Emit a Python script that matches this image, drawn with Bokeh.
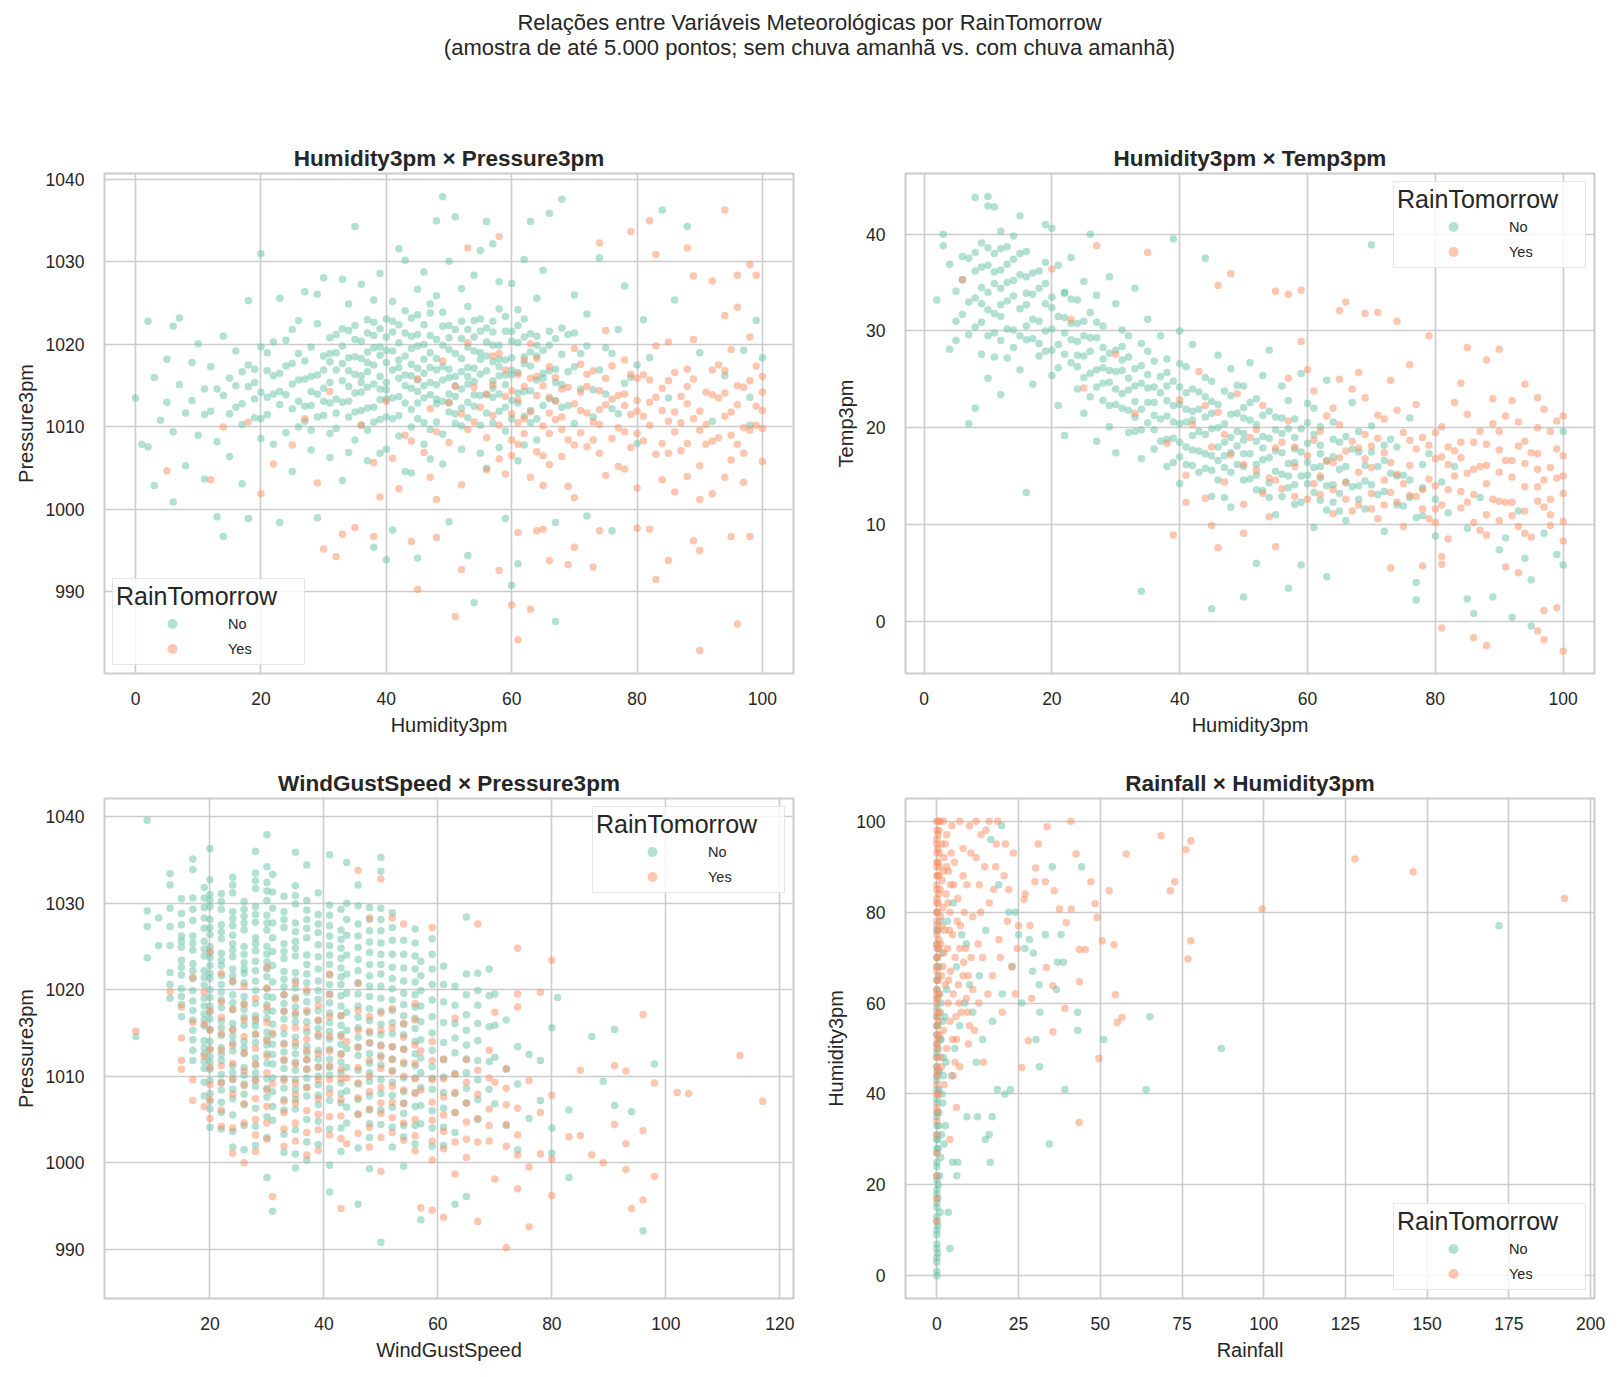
from bokeh.plotting import figure
from bokeh.models import Div, Legend, LegendItem, FixedTicker, Range1d
from bokeh.layouts import column, row
from bokeh.embed import file_html
from bokeh.resources import INLINE

# values (a sample of the plotted points)

# Humidity3pm x Pressure3pm
hum_pres_no = [
    (0, 1013.5), (1, 1007.9), (2, 1007.6), (2, 1022.8), (3, 1002.9), (3, 1016.0), (4, 1010.8), (5, 1018.2),
    (5, 1013.0), (6, 1022.2), (6, 1000.9), (6, 1009.4), (7, 1023.2), (7, 1015.1), (8, 1011.7), (8, 1005.3),
    (9, 1017.8), (9, 1013.2), (10, 1009.0), (10, 1020.1), (11, 1014.6), (11, 1003.7), (12, 1011.9), (12, 1017.3),
    (13, 999.1), (13, 1008.2), (14, 1013.8), (14, 996.7), (14, 1021.0), (15, 1015.9), (15, 1006.4), (16, 1012.4),
    (16, 1019.2), (17, 1010.3), (17, 1003.1), (18, 1014.9), (18, 998.9), (18, 1025.3), (19, 1011.1), (19, 1017.0),
    (20, 1031.0), (20, 1008.6), (20, 1014.2), (21, 1016.8), (21, 1011.5), (22, 1020.3), (22, 1007.9), (22, 1014.0),
    (23, 998.4), (23, 1012.7), (23, 1025.6), (24, 1017.4), (24, 1009.3), (25, 1015.2), (25, 1021.8), (25, 1004.6),
    (26, 1013.1), (26, 1018.9), (27, 1010.7), (27, 1026.4), (27, 1015.8), (28, 1007.2), (28, 1012.6), (28, 1019.7),
    (29, 999.0), (29, 1016.3), (29, 1022.5), (30, 1011.4), (30, 1014.7), (30, 1028.1), (31, 1006.3), (31, 1017.9),
    (32, 1013.4), (32, 1009.8), (32, 1021.2), (33, 1015.6), (33, 1003.5), (34, 1018.4), (34, 1011.2), (34, 1024.9),
    (35, 1034.3), (35, 1014.1), (35, 1008.4), (35, 1020.6), (36, 1016.2), (36, 1012.0), (36, 1027.3), (37, 1019.1),
    (37, 1009.6), (37, 1014.8), (38, 995.4), (38, 1017.5), (38, 1022.7), (39, 1013.3), (39, 1006.8), (39, 1018.7),
    (40, 993.9), (40, 1015.4), (40, 1020.9), (40, 1011.2), (41, 997.5), (41, 1016.9), (41, 1025.2), (42, 1013.7),
    (42, 1018.1), (42, 1008.9), (43, 1021.4), (43, 1015.0), (43, 1030.2), (44, 1012.1), (44, 1017.6), (44, 1004.4),
    (45, 994.1), (45, 1019.8), (45, 1014.3), (45, 1023.6), (46, 1016.5), (46, 1010.5), (46, 1028.8), (47, 1013.9),
    (47, 1021.1), (47, 1006.1), (48, 1035.0), (48, 1018.3), (48, 1012.8), (48, 1025.9), (49, 1037.9), (49, 1015.7),
    (49, 1009.1), (50, 998.5), (50, 1019.4), (50, 1014.0), (50, 1022.3), (51, 1035.5), (51, 1016.1), (51, 1011.6),
    (52, 1020.7), (52, 1026.8), (52, 1007.3), (53, 994.4), (53, 1017.2), (53, 1013.0), (54, 988.7), (54, 1022.9),
    (54, 1015.5), (55, 1019.0), (55, 1010.2), (55, 1031.4), (56, 1034.9), (56, 1016.8), (56, 1005.0), (57, 1021.5),
    (57, 1013.6), (58, 1018.2), (58, 1027.6), (59, 998.9), (59, 1015.1), (59, 1009.5), (60, 990.8), (60, 1020.4),
    (60, 1016.3), (61, 993.4), (61, 1012.9), (61, 1024.2), (62, 1017.7), (62, 1007.8), (63, 1034.9), (63, 1021.3),
    (63, 1014.4), (64, 1018.6), (64, 1011.0), (65, 1029.0), (65, 1015.9), (66, 1035.9), (66, 1019.9), (67, 986.4),
    (67, 998.4), (67, 1013.2), (68, 1037.6), (68, 1022.0), (69, 1016.7), (70, 1026.0), (70, 1010.4), (71, 1018.9),
    (72, 999.2), (72, 1023.7), (73, 1014.5), (74, 1030.5), (75, 1019.6), (76, 997.4), (76, 1012.2), (77, 1021.8),
    (78, 1027.1), (79, 1016.0), (80, 1008.0), (81, 1023.0), (82, 1018.4), (84, 1036.3), (85, 1013.5), (86, 1025.4),
    (88, 1034.3), (90, 1019.0), (92, 1010.7), (94, 1016.2), (97, 1019.3), (98, 1013.6), (99, 1022.9), (100, 1018.4),
    (98, 1010.2), (26, 1015.7), (28, 1016.1), (30, 1018.6), (31, 1012.9), (33, 1019.8), (34, 1014.9), (36, 1020.4),
    (37, 1016.7), (38, 1012.4), (39, 1021.9), (40, 1017.8), (41, 1013.5), (42, 1022.4), (43, 1018.6), (44, 1014.7),
    (45, 1011.0), (46, 1020.0), (47, 1017.2), (48, 1015.1), (49, 1019.9), (50, 1017.0), (51, 1021.8), (52, 1014.6),
    (53, 1019.7), (54, 1012.5), (55, 1016.4), (56, 1020.3), (57, 1017.9), (58, 1014.0), (59, 1021.6), (60, 1013.2),
    (62, 1020.9), (44, 1023.2), (38, 1025.4), (47, 1009.7), (53, 1024.6), (57, 1010.5), (32, 1016.9), (24, 1013.9),
    (20, 1019.7), (15, 1011.6), (16, 1015.0), (17, 1012.8), (18, 1017.5), (19, 1013.4), (20, 1011.0), (21, 1019.0),
    (22, 1016.2), (23, 1014.3), (24, 1020.5), (25, 1012.2), (26, 1010.0), (27, 1018.0), (28, 1014.3), (29, 1011.2),
    (30, 1016.9), (31, 1020.8), (32, 1011.7), (33, 1017.7), (34, 1021.7), (35, 1016.4), (35, 1011.8), (36, 1018.3),
    (36, 1014.2), (37, 1021.4), (37, 1012.3), (38, 1019.6), (38, 1015.2), (39, 1016.1), (39, 1010.9), (40, 1013.4),
    (40, 1023.1), (41, 1019.2), (41, 1011.0), (42, 1015.9), (42, 1020.2), (43, 1012.9), (43, 1024.1), (44, 1019.5),
    (44, 1010.0), (45, 1017.1), (45, 1021.2), (46, 1013.5), (46, 1018.2), (47, 1015.4), (47, 1023.8), (48, 1020.6),
    (48, 1010.6), (49, 1013.1), (49, 1022.2), (50, 1016.0), (50, 1011.8), (51, 1018.9), (51, 1013.7), (52, 1022.8),
    (52, 1016.7), (53, 1015.2), (53, 1011.1), (54, 1019.2), (54, 1017.1), (55, 1013.8), (55, 1021.6), (56, 1018.6),
    (56, 1013.9), (57, 1015.6), (57, 1019.9), (58, 1016.2), (58, 1011.9), (59, 1018.1), (59, 1023.4), (60, 1018.4),
    (60, 1011.0), (61, 1020.2), (61, 1016.6), (62, 1014.3), (62, 1023.1), (63, 1017.4), (63, 1010.5), (64, 1021.0),
    (64, 1015.7), (65, 1019.3), (65, 1012.6), (66, 1016.8), (66, 1013.4), (67, 1020.7), (67, 1017.0), (68, 1015.1),
    (68, 1018.8), (69, 1012.6), (69, 1021.2), (70, 1017.3), (71, 1014.6), (72, 1019.8), (73, 1011.2), (74, 1016.9),
    (75, 1014.0), (76, 1018.9), (77, 1011.6), (78, 1015.3), (80, 1017.5), (28, 1009.6), (31, 1009.2), (34, 1006.9),
    (37, 1005.9), (40, 1007.3), (43, 1004.6), (46, 1007.9), (49, 1005.5), (52, 1010.1), (55, 1006.8), (58, 1007.5),
    (61, 1005.9), (64, 1008.4), (26, 1022.9), (29, 1026.1), (33, 1027.9), (39, 1028.6), (42, 1031.6), (45, 1026.7),
    (50, 1030.1), (54, 1028.4), (57, 1032.2), (60, 1027.4), (62, 1030.3), (64, 1025.6), (58, 1024.3),
]
hum_pres_no_core = [
    (30, 1013.1), (31, 1015.4), (32, 1019.0), (33, 1013.0), (34, 1016.8), (35, 1022.3), (36, 1010.2), (37, 1017.8),
    (38, 1021.1), (39, 1014.6), (40, 1019.3), (41, 1021.5), (42, 1011.4), (43, 1016.3), (44, 1021.0), (45, 1015.7),
    (46, 1022.4), (47, 1019.0), (48, 1013.4), (49, 1017.3), (50, 1020.8), (51, 1015.0), (52, 1018.3), (53, 1021.8),
    (54, 1013.9), (55, 1018.2), (56, 1022.0), (57, 1014.7), (58, 1019.9), (59, 1012.4), (60, 1016.9), (61, 1022.3),
    (62, 1018.5), (63, 1012.0), (64, 1019.9), (65, 1016.5), (66, 1021.6), (67, 1015.4), (68, 1012.4), (70, 1021.4),
    (34, 1013.1), (36, 1015.4), (38, 1010.6), (40, 1014.5), (42, 1017.2), (44, 1016.2), (46, 1015.0), (48, 1016.9),
    (50, 1013.0), (52, 1012.3), (54, 1020.9), (56, 1011.7), (58, 1017.3), (60, 1021.6), (62, 1011.3), (45, 1012.9),
    (47, 1024.9), (49, 1023.9), (51, 1010.4), (53, 1016.1), (55, 1023.1), (57, 1022.8), (59, 1016.3), (61, 1014.1),
    (63, 1019.1), (41, 1022.8), (39, 1019.7), (37, 1023.0), (35, 1018.5), (33, 1021.9), (31, 1018.9), (29, 1014.0),
    (27, 1012.5), (25, 1017.7), (23, 1016.5), (21, 1013.6), (19, 1015.4), (17, 1016.7), (13, 1014.6), (11, 1011.5),
]
hum_pres_yes = [
    (94, 1036.3), (82, 1035.0), (79, 1033.7), (74, 1032.3), (88, 1031.7), (83, 1030.9), (98, 1029.7), (96, 1028.4),
    (99, 1028.4), (58, 1033.1), (53, 1031.7), (92, 1027.7), (89, 1028.3), (96, 1024.5), (94, 1023.5),
    (96, 986.1), (90, 982.9), (61, 984.2), (63, 987.9), (60, 988.4), (51, 987.0), (45, 990.3), (52, 992.7),
    (58, 992.6), (83, 991.5), (85, 993.8), (66, 993.8), (69, 993.3), (73, 993.0), (70, 995.4), (61, 997.2),
    (64, 997.4), (65, 997.6), (74, 997.4), (80, 997.7), (82, 997.6), (89, 996.2), (90, 995.0), (95, 996.7),
    (98, 996.7), (30, 995.2), (32, 994.3), (33, 997.0), (35, 997.8), (38, 996.7), (44, 996.1), (48, 996.6),
    (55, 1012.4), (56, 1008.7), (57, 1015.1), (58, 1018.9), (59, 1004.3), (60, 1011.6), (61, 1016.4), (62, 1009.2),
    (63, 1020.1), (64, 1013.8), (65, 1006.5), (66, 1017.3), (67, 1010.9), (68, 1014.6), (69, 1002.8), (70, 1019.5),
    (71, 1012.0), (72, 1007.6), (73, 1016.8), (74, 1010.3), (75, 1021.7), (76, 1013.4), (77, 1005.2), (78, 1018.1),
    (79, 1011.5), (80, 1015.9), (81, 1008.3), (82, 1013.0), (83, 1019.8), (84, 1003.6), (85, 1010.7), (86, 1016.6),
    (87, 1007.1), (88, 1012.8), (89, 1020.6), (90, 1009.6), (91, 1014.2), (92, 1001.9), (93, 1017.5), (94, 1011.3),
    (95, 1006.0), (96, 1015.0), (97, 1009.9), (98, 1020.9), (99, 1012.5), (100, 1005.8), (100, 1016.1), (97, 1003.3),
    (92, 1013.9), (88, 1008.0), (86, 1002.1), (80, 1011.9), (78, 1009.4), (74, 1014.4), (71, 1017.6), (68, 1006.4),
    (66, 1011.7), (63, 1003.9), (61, 1010.5), (59, 1013.7), (36, 1010.2), (38, 1005.7), (40, 1013.1), (42, 1002.5),
    (43, 1009.0), (45, 1015.8), (46, 1006.9), (47, 1012.2), (48, 1001.2), (49, 1018.0), (50, 1008.1), (51, 1014.9),
    (52, 1003.0), (53, 1020.2), (54, 1010.6), (27, 1011.0), (22, 1005.5), (25, 1007.8), (18, 1010.6), (20, 1001.9),
    (12, 1003.6), (5, 1004.7), (14, 1010.0), (31, 1014.3), (29, 1003.2), (56, 1014.0), (57, 1011.4), (58, 1006.1),
    (59, 1016.9), (60, 1008.4), (61, 1013.3), (62, 1018.1), (63, 1011.8), (64, 1007.0), (65, 1015.0), (66, 1009.2),
    (67, 1016.0), (68, 1011.2), (69, 1014.8), (70, 1007.8), (71, 1009.3), (72, 1014.9), (73, 1010.6), (74, 1006.8),
    (75, 1012.7), (76, 1017.4), (77, 1009.9), (78, 1014.0), (79, 1007.5), (80, 1013.2), (81, 1016.3), (82, 1010.2),
    (83, 1006.7), (84, 1012.0), (85, 1015.6), (86, 1009.4), (87, 1013.7), (88, 1017.0), (89, 1011.0), (90, 1005.3),
    (91, 1010.3), (92, 1016.9), (93, 1008.7), (94, 1014.1), (95, 1011.8), (96, 1007.9), (97, 1014.8), (98, 1009.6),
    (99, 1017.4), (100, 1012.0), (85, 1020.3), (90, 1001.2), (95, 1019.4), (80, 1002.6), (75, 1004.1), (70, 1001.4),
    (65, 1002.9), (62, 1014.9), (66, 1005.4), (72, 1011.7), (78, 1004.9), (84, 1008.0), (88, 1004.0), (94, 1003.9),
    (100, 1009.8), (60, 1006.5), (56, 1004.8), (53, 1009.7), (50, 1012.9), (47, 1003.9), (44, 1008.3), (41, 1006.2),
    (39, 1001.5), (57, 1018.6), (64, 1018.3),
]
hum_pres_yes_core = [
    (60, 1014.4), (62, 1011.0), (64, 1016.1), (66, 1013.6), (68, 1009.7), (70, 1012.8), (72, 1016.4), (74, 1012.1),
    (76, 1008.6), (78, 1012.6), (80, 1009.2), (82, 1015.7), (84, 1014.7), (86, 1011.8), (88, 1014.9), (90, 1011.9),
    (92, 1008.3), (94, 1016.8), (96, 1012.7), (98, 1015.6), (100, 1014.2), (61, 1007.9), (63, 1015.9), (65, 1010.1),
    (67, 1013.1), (69, 1008.4), (71, 1014.2), (73, 1008.4), (75, 1015.9), (77, 1013.8), (79, 1016.4), (81, 1011.3),
    (83, 1013.6), (85, 1006.8), (87, 1010.5), (89, 1015.8), (91, 1007.9), (93, 1013.5), (95, 1009.0), (97, 1006.8),
    (99, 1010.2), (58, 1010.2), (54, 1014.8), (52, 1011.6), (48, 1009.4),
]

# Humidity3pm x Temp3pm
hum_temp_no = [
    (2, 33.2), (3, 40.0), (3, 38.8), (4, 36.9), (4, 28.1), (5, 29.0), (5, 34.1), (6, 35.3), (6, 31.7), (7, 20.4),
    (7, 37.5), (7, 33.0), (8, 43.8), (8, 22.0), (8, 36.2), (8, 30.4), (9, 39.1), (9, 34.5), (9, 27.6), (10, 43.9),
    (10, 42.9), (10, 36.8), (10, 32.2), (10, 25.1), (11, 42.8), (11, 38.0), (11, 34.9), (11, 29.8), (12, 40.3),
    (12, 36.3), (12, 31.5), (12, 23.4), (13, 38.7), (13, 35.0), (13, 27.2), (14, 37.4), (14, 33.6), (14, 30.1),
    (15, 41.9), (15, 35.8), (15, 26.0), (16, 13.3), (16, 38.2), (16, 32.7), (16, 29.1), (17, 36.0), (17, 24.5),
    (18, 34.4), (18, 31.0), (19, 41.0), (19, 37.1), (19, 27.9), (20, 40.6), (20, 33.5), (20, 25.4), (20, 30.2),
    (21, 36.8), (21, 28.6), (21, 22.3), (22, 34.0), (22, 31.4), (22, 19.2), (23, 37.6), (23, 26.7), (23, 30.8),
    (24, 33.2), (24, 24.0), (24, 28.9), (25, 35.1), (25, 21.5), (25, 27.4), (26, 40.0), (26, 31.9), (26, 25.6),
    (27, 29.3), (27, 18.6), (27, 33.7), (28, 26.2), (28, 22.8), (28, 30.5), (29, 35.6), (29, 24.7), (29, 20.1),
    (30, 28.0), (30, 32.8), (30, 17.4), (31, 25.9), (31, 22.0), (31, 30.1), (32, 27.3), (32, 19.5), (33, 34.4),
    (33, 24.3), (33, 21.1), (34, 3.1), (34, 28.7), (34, 16.8), (35, 25.5), (35, 22.6), (35, 31.2), (36, 26.9),
    (36, 19.8), (37, 23.6), (37, 29.5), (38, 21.2), (38, 16.0), (38, 27.1), (39, 39.5), (39, 24.8), (39, 18.9),
    (40, 22.4), (40, 30.0), (40, 14.2), (41, 26.3), (41, 20.6), (42, 17.7), (42, 24.0), (42, 28.6), (43, 21.9),
    (43, 15.4), (44, 37.5), (44, 25.2), (44, 19.3), (45, 1.3), (45, 22.7), (45, 17.1), (45, 12.9), (46, 27.5),
    (46, 20.0), (47, 23.8), (47, 15.9), (47, 18.5), (48, 26.1), (48, 21.4), (48, 11.8), (49, 19.6), (49, 24.4),
    (50, 2.5), (50, 17.3), (50, 22.1), (50, 14.6), (51, 20.8), (51, 26.7), (52, 6.0), (52, 16.2), (52, 23.0),
    (53, 19.1), (53, 13.5), (54, 21.7), (54, 28.0), (55, 17.6), (55, 11.0), (56, 24.3), (56, 15.2), (57, 3.4),
    (57, 19.9), (57, 22.8), (58, 14.1), (58, 17.8), (59, 5.8), (59, 25.6), (59, 12.3), (60, 20.5), (60, 16.4),
    (61, 9.7), (61, 22.0), (62, 18.2), (62, 14.8), (63, 4.6), (63, 24.9), (63, 11.5), (64, 17.0), (64, 20.6),
    (65, 13.2), (65, 15.7), (66, 19.1), (66, 10.4), (67, 22.6), (68, 14.0), (68, 17.5), (69, 11.6), (70, 38.9),
    (70, 20.2), (71, 13.1), (72, 16.6), (72, 9.3), (73, 18.8), (74, 12.0), (75, 15.1), (76, 21.0), (77, 4.0),
    (77, 2.2), (77, 10.7), (78, 13.8), (79, 17.3), (80, 8.8), (81, 14.4), (82, 11.2), (83, 16.0), (85, 2.3),
    (85, 9.6), (86, 0.8), (87, 12.8), (89, 2.5), (90, 7.4), (91, 8.6), (92, 0.4), (93, 11.4), (94, 6.5), (95, 4.3),
    (95, -0.5), (97, 9.1), (99, 6.9), (100, 5.8), (100, 19.6), (30, 24.0), (34, 21.9), (38, 22.8), (42, 20.8),
    (46, 18.0), (50, 19.4), (54, 16.9), (58, 20.9), (62, 16.0), (40, 26.6), (44, 23.2), (48, 19.0), (52, 18.6),
    (56, 21.0), (36, 24.2), (32, 25.1), (28, 28.3), (24, 30.8), (20, 32.4), (16, 35.6), (12, 34.4), (60, 18.4),
    (64, 14.1), (53, 25.4), (41, 18.0), (5, 31.0), (6, 37.7), (7, 29.6), (8, 33.4), (9, 36.6), (9, 30.9),
    (10, 34.0), (10, 38.6), (11, 31.8), (11, 27.3), (12, 38.5), (12, 29.0), (13, 33.1), (13, 36.9), (14, 28.3),
    (14, 35.2), (15, 32.3), (15, 38.0), (16, 30.5), (17, 33.8), (17, 29.2), (18, 36.2), (18, 27.4), (19, 32.8),
    (19, 30.0), (21, 31.5), (22, 27.6), (22, 33.9), (23, 29.1), (24, 26.3), (25, 31.0), (25, 29.5), (26, 27.9),
    (26, 23.2), (27, 26.0), (27, 30.9), (28, 24.6), (29, 27.7), (29, 22.3), (30, 25.8), (31, 28.4), (31, 23.5),
    (32, 21.8), (32, 29.5), (33, 26.1), (33, 19.6), (34, 24.6), (34, 26.4), (35, 20.5), (35, 27.9), (36, 22.6),
    (36, 17.8), (37, 25.3), (37, 20.9), (38, 18.8), (38, 24.3), (39, 22.3), (39, 16.4), (40, 20.4), (40, 18.5),
    (41, 23.6), (41, 16.2), (42, 21.7), (42, 19.2), (43, 23.7), (43, 17.6), (44, 21.1), (44, 15.8), (45, 19.9),
    (45, 24.8), (46, 22.4), (46, 16.6), (47, 20.4), (47, 12.8), (48, 17.4), (48, 23.3), (49, 21.5), (49, 16.2),
    (50, 18.7), (50, 24.3), (51, 17.3), (51, 14.7), (52, 20.3), (52, 13.6), (53, 16.7), (53, 21.3), (54, 18.9),
    (54, 14.3), (55, 19.8), (55, 15.5), (56, 17.4), (56, 12.9), (57, 16.3), (57, 13.8), (58, 19.0), (58, 12.1),
    (59, 17.5), (59, 15.0), (60, 14.2), (60, 22.5), (61, 15.9), (61, 19.3), (62, 12.5), (62, 20.1), (63, 16.6),
    (64, 12.3), (65, 18.5), (66, 16.0), (67, 13.9), (68, 19.6), (69, 14.5), (70, 17.5), (71, 16.0), (72, 13.4),
    (73, 15.3), (74, 18.0), (75, 11.9), (76, 14.6), (78, 16.2), (80, 12.6),
]
hum_temp_no_core = [
    (8, 38.1), (9, 32.8), (10, 29.5), (11, 36.1), (12, 32.7), (13, 30.2), (14, 39.8), (15, 29.5), (16, 33.9),
    (17, 31.2), (18, 28.7), (19, 34.9), (20, 28.0), (21, 26.2), (22, 29.8), (23, 33.3), (24, 27.5), (25, 25.2),
    (26, 29.3), (27, 24.2), (28, 27.1), (29, 25.9), (30, 22.4), (31, 27.0), (32, 23.9), (33, 22.7), (34, 19.8),
    (35, 24.1), (36, 21.3), (37, 18.6), (38, 25.7), (39, 20.6), (40, 17.0), (41, 21.9), (42, 16.1), (43, 19.6),
    (44, 17.3), (45, 21.5), (46, 14.6), (47, 17.1), (48, 15.4), (49, 18.1), (50, 16.0), (51, 22.6), (52, 15.1),
    (53, 17.9), (54, 12.8), (55, 21.1), (56, 19.4), (57, 15.0), (58, 16.4), (59, 19.9), (60, 15.1), (61, 13.3),
    (62, 17.3), (63, 14.0), (64, 18.8), (65, 11.4), (66, 14.4), (67, 17.8), (68, 12.6), (69, 16.1), (70, 14.1),
    (72, 18.2), (74, 15.0), (76, 12.8), (78, 10.9), (40, 24.2), (45, 15.6), (50, 21.0),
]
hum_temp_yes = [
    (27, 38.8), (35, 38.1), (6, 35.3), (48, 35.9), (46, 34.7), (57, 33.8), (55, 34.1), (59, 34.2), (66, 33.0),
    (65, 32.1), (69, 31.8), (71, 31.9), (74, 31.0), (79, 29.5), (85, 28.3), (88, 27.0), (90, 28.1), (94, 24.5),
    (96, 23.1), (20, 36.4), (23, 31.2), (30, 27.6), (33, 21.5), (25, 24.1), (81, -0.7), (86, -1.7), (88, -2.5),
    (96, -1.0), (97, -1.9), (97, 1.1), (100, -3.1), (91, 5.6), (81, 5.9), (81, 6.7), (78, 5.7), (73, 5.5),
    (50, 9.1), (55, 7.7), (46, 7.6), (39, 8.9), (45, 9.9), (99, 1.4), (93, 5.0), (38, 18.4), (40, 22.9),
    (41, 15.1), (42, 20.3), (43, 25.8), (44, 12.7), (45, 18.0), (46, 21.6), (47, 14.4), (48, 17.2), (49, 23.5),
    (50, 12.1), (51, 19.0), (52, 15.6), (53, 22.3), (54, 10.8), (55, 17.9), (56, 13.7), (57, 20.7), (58, 16.0),
    (59, 28.9), (60, 12.6), (61, 18.7), (62, 15.0), (63, 21.2), (64, 11.1), (65, 16.9), (66, 14.3), (67, 24.0),
    (68, 12.0), (69, 19.3), (70, 15.9), (71, 10.6), (72, 17.4), (73, 13.3), (74, 21.8), (75, 9.8), (76, 16.1),
    (77, 12.9), (78, 19.0), (79, 14.7), (80, 10.2), (81, 17.0), (82, 13.6), (83, 22.6), (84, 11.7), (85, 15.3),
    (86, 18.5), (87, 9.4), (88, 14.2), (89, 20.4), (90, 12.4), (91, 16.6), (92, 10.9), (93, 18.1), (94, 13.9),
    (95, 8.7), (96, 15.7), (97, 11.8), (98, 19.6), (99, 14.8), (100, 10.3), (100, 17.1), (98, 12.6), (96, 20.0),
    (94, 16.3), (92, 22.8), (90, 15.4), (88, 11.0), (86, 13.1), (84, 24.6), (82, 8.5), (80, 16.8), (76, 26.5),
    (72, 20.9), (68, 25.7), (64, 22.0), (60, 26.0), (50, 16.2), (52, 19.8), (54, 14.8), (56, 18.5), (58, 12.9),
    (60, 17.1), (61, 14.2), (62, 19.6), (63, 16.5), (64, 13.6), (65, 20.3), (66, 17.6), (67, 11.4), (68, 15.4),
    (69, 16.8), (70, 13.2), (71, 18.9), (72, 14.6), (73, 16.4), (74, 12.3), (75, 19.5), (76, 13.0), (77, 17.8),
    (78, 11.6), (79, 18.2), (80, 14.0), (81, 12.0), (82, 18.0), (83, 15.0), (84, 16.9), (85, 12.3), (86, 10.2),
    (87, 16.0), (88, 18.3), (89, 12.6), (90, 17.7), (91, 12.3), (92, 14.9), (93, 9.8), (94, 11.4), (95, 17.4),
    (96, 12.4), (97, 14.6), (98, 9.9), (99, 17.8), (100, 13.2), (100, 21.2), (97, 21.9), (93, 20.6), (89, 23.0),
    (85, 21.4), (81, 20.1), (77, 22.4), (73, 24.9), (69, 23.1), (65, 25.0), (61, 23.8), (57, 25.1), (53, 13.2),
    (47, 19.3), (44, 22.3), (41, 12.3),
]
hum_temp_yes_core = [
    (55, 14.6), (58, 18.0), (62, 13.1), (64, 16.4), (66, 12.6), (68, 17.9), (70, 11.6), (70, 18.1), (72, 12.0),
    (74, 15.2), (76, 18.7), (78, 13.6), (80, 19.5), (80, 11.6), (82, 16.2), (84, 13.4), (84, 18.5), (86, 15.7),
    (88, 16.1), (88, 8.9), (90, 10.4), (90, 19.6), (92, 16.6), (92, 12.3), (94, 18.6), (94, 9.1), (96, 13.9),
    (96, 17.3), (98, 15.9), (98, 11.0), (100, 15.0), (100, 8.3), (99, 20.7), (91, 21.2), (87, 19.6), (83, 17.6),
    (79, 10.6), (75, 14.2), (71, 21.3), (67, 18.6),
]

# WindGustSpeed x Pressure3pm: pressures seen at each gust value
gust_pres_no = {
    7: [1014.6], 9: [1039.6, 1029.1, 1027.3, 1023.7], 11: [1028.3, 1025.1],
    13: [1033.4, 1032.1, 1029.4, 1025.1, 1022.0, 1019.0, 1027.3, 1020.6],
    15: [1030.5, 1028.8, 1026.2, 1024.9, 1023.4, 1021.7, 1020.1, 1018.3, 1016.9],
    17: [1035.1, 1033.9, 1030.6, 1028.0, 1026.2, 1024.6, 1023.0, 1021.3, 1019.9, 1018.7, 1016.5, 1014.2, 1011.8],
    19: [1031.8, 1029.5, 1027.1, 1025.6, 1023.9, 1022.2, 1020.5, 1019.0, 1017.2, 1015.8, 1014.1, 1012.6, 1010.9,
         1009.3, 1007.7],
    20: [1036.3, 1032.7, 1031.0, 1029.6, 1028.1, 1026.4, 1025.0, 1023.7, 1022.8, 1021.3, 1020.0, 1019.1, 1018.1,
         1016.6, 1015.4, 1014.0, 1012.3, 1010.8, 1009.5, 1008.0, 1006.2, 1004.1],
    22: [1031.1, 1029.3, 1027.5, 1025.9, 1024.2, 1022.8, 1021.6, 1019.7, 1017.9, 1016.4, 1014.7, 1013.3, 1011.8,
         1010.2, 1008.4, 1005.8, 1003.9],
    24: [1033.0, 1031.2, 1029.0, 1027.4, 1025.3, 1023.8, 1022.4, 1020.9, 1019.4, 1017.7, 1016.1, 1014.6, 1012.9,
         1011.2, 1009.6, 1007.4, 1005.5, 1003.6, 1001.8],
    26: [1030.2, 1028.5, 1026.9, 1025.0, 1023.1, 1021.9, 1020.8, 1019.2, 1017.7, 1015.9, 1014.0, 1012.6, 1011.0,
         1009.1, 1006.7, 1004.3, 1001.5],
    28: [1036.0, 1033.5, 1031.7, 1029.6, 1027.8, 1026.0, 1024.5, 1022.2, 1019.9, 1018.4, 1017.0, 1015.8, 1013.9,
         1012.1, 1010.4, 1008.8, 1006.3, 1004.2, 1002.0],
    30: [1037.9, 1034.2, 1032.4, 1030.3, 1028.6, 1026.9, 1025.0, 1023.2, 1021.5, 1020.1, 1018.3, 1016.7, 1015.1,
         1013.6, 1011.5, 1009.7, 1007.6, 1005.3, 1002.9, 998.3],
    31: [1033.3, 1029.4, 1026.0, 1022.8, 1019.1, 1016.0, 1013.7, 1011.4, 1008.2, 1004.9, 994.4],
    33: [1030.8, 1029.0, 1027.2, 1025.3, 1023.6, 1022.1, 1020.3, 1018.4, 1016.6, 1014.9, 1012.8, 1010.9, 1008.6,
         1006.1, 1003.3, 1001.2],
    35: [1035.9, 1032.0, 1029.9, 1027.7, 1025.6, 1023.9, 1022.0, 1020.2, 1018.0, 1016.3, 1014.5, 1012.6, 1010.7,
         1008.5, 1006.2, 1003.8, 1001.0, 999.4],
    37: [1034.4, 1030.3, 1028.1, 1026.0, 1024.0, 1021.8, 1019.7, 1017.4, 1015.1, 1013.5, 1011.9, 1009.8, 1007.7,
         1005.0, 1002.4, 1000.3],
    39: [1031.2, 1028.7, 1026.6, 1023.8, 1021.0, 1018.9, 1016.4, 1014.6, 1013.0, 1011.1, 1009.0, 1006.7, 1004.8,
         1002.1],
    41: [1035.6, 1029.8, 1027.4, 1025.1, 1022.9, 1020.6, 1018.5, 1016.2, 1014.3, 1012.0, 1010.1, 1007.2, 1003.9,
         999.7, 996.6],
    43: [1029.3, 1026.9, 1024.8, 1022.5, 1020.6, 1018.1, 1015.9, 1013.7, 1011.6, 1009.2, 1006.9, 1004.0, 1001.3],
    44: [1034.7, 1030.0, 1026.3, 1021.8, 1017.4, 1013.2, 1008.3, 1004.6],
    46: [1032.1, 1029.7, 1027.6, 1024.9, 1022.2, 1019.5, 1016.8, 1014.5, 1012.4, 1009.1, 1005.6, 1001.7, 995.2],
    48: [1029.5, 1026.8, 1024.3, 1021.6, 1019.2, 1016.4, 1013.8, 1011.5, 1009.4, 1006.1, 1002.9, 999.3],
    50: [1035.3, 1033.7, 1029.4, 1026.8, 1024.1, 1021.8, 1019.0, 1016.0, 1013.6, 1011.3, 1008.0, 1004.4, 990.8],
    52: [1028.9, 1025.7, 1022.6, 1020.1, 1017.6, 1014.9, 1012.0, 1009.3, 1006.4, 1001.8],
    54: [1025.7, 1022.5, 1019.6, 1017.0, 1014.8, 1011.4, 1008.2, 1005.7, 1003.0, 999.6],
    56: [1027.0, 1023.9, 1020.9, 1018.0, 1015.5, 1012.6, 1009.8, 1006.5, 1002.2],
    57: [1023.3, 1019.9, 1016.3, 1012.1, 1008.7, 1004.5, 993.4],
    59: [1025.9, 1022.4, 1018.8, 1015.0, 1011.1, 1008.5, 1006.0, 1001.9],
    61: [1022.7, 1018.6, 1013.9, 1009.9, 1006.3, 1002.0],
    63: [1020.4, 1016.1, 1012.7, 1008.0, 1003.5, 995.2],
    65: [1028.4, 1021.8, 1017.1, 1013.6, 1010.4, 1006.9, 996.1],
    67: [1021.9, 1018.2, 1014.1, 1009.6, 1005.0],
    69: [1022.4, 1019.3, 1015.7, 1011.7, 1008.5],
    70: [1019.5, 1015.9, 1012.2, 1006.8], 72: [1016.5, 1010.8, 1004.3], 74: [1013.4, 1009.1, 1001.5],
    76: [1012.5, 1005.1], 78: [1011.8, 1007.2], 80: [1015.6, 1004.0, 1001.1], 81: [1019.1],
    83: [1006.1, 998.3], 87: [1014.6], 89: [1009.4], 91: [1015.4, 1006.6], 94: [1005.9], 96: [992.1],
    98: [1011.4],
}
gust_pres_no_more = {
    15: [1027.5, 1025.6, 1022.6, 1019.2], 17: [1029.3, 1025.4, 1022.2, 1017.6, 1015.3, 1013.0],
    19: [1030.6, 1028.3, 1024.7, 1021.4, 1018.1, 1016.5, 1013.3, 1011.7],
    20: [1030.3, 1027.2, 1024.3, 1021.9, 1017.4, 1013.1, 1011.6, 1007.1],
    22: [1030.2, 1026.7, 1023.4, 1020.6, 1018.8, 1015.6, 1012.5, 1009.3, 1007.0],
    24: [1032.1, 1028.2, 1026.3, 1024.6, 1021.6, 1018.5, 1015.4, 1013.8, 1010.4, 1008.5],
    26: [1029.3, 1027.7, 1024.1, 1022.4, 1018.4, 1016.8, 1013.3, 1010.1, 1007.9],
    28: [1032.6, 1028.7, 1025.3, 1023.3, 1021.0, 1016.4, 1014.8, 1011.3, 1009.6],
    30: [1031.4, 1027.7, 1024.1, 1022.4, 1019.2, 1017.5, 1014.3, 1012.6, 1008.6],
    31: [1031.3, 1027.7, 1024.4, 1020.9, 1017.5, 1014.8, 1012.5, 1009.8, 1006.5],
    33: [1028.1, 1024.4, 1021.2, 1019.4, 1017.5, 1013.8, 1011.8, 1009.7, 1007.3],
    35: [1030.9, 1026.7, 1024.8, 1021.1, 1019.1, 1017.1, 1013.5, 1011.6, 1009.6, 1007.3],
    37: [1029.2, 1027.1, 1022.9, 1020.8, 1018.6, 1016.3, 1012.7, 1010.8, 1008.7],
    39: [1027.6, 1025.2, 1022.4, 1019.9, 1017.6, 1015.5, 1012.0, 1010.0, 1007.8],
    41: [1028.6, 1026.2, 1024.0, 1021.7, 1019.5, 1017.3, 1015.2, 1013.1, 1011.0, 1008.6],
    43: [1025.8, 1023.6, 1021.5, 1019.3, 1017.0, 1014.8, 1012.6, 1010.4, 1008.0],
    44: [1028.1, 1024.0, 1019.6, 1015.3, 1011.0, 1006.4],
    46: [1026.2, 1023.5, 1020.8, 1018.1, 1015.6, 1013.4, 1010.7, 1007.3],
    48: [1028.1, 1025.5, 1022.9, 1020.4, 1017.8, 1015.0, 1012.6, 1010.4, 1007.7, 1004.5],
    50: [1028.1, 1025.4, 1022.9, 1020.4, 1017.5, 1014.8, 1012.4, 1009.6, 1006.1],
    52: [1027.2, 1024.1, 1021.3, 1018.8, 1016.2, 1013.4, 1010.6, 1007.8, 1004.1],
    54: [1024.1, 1021.0, 1018.3, 1016.0, 1013.1, 1009.8, 1006.9, 1004.3],
    56: [1025.4, 1022.4, 1019.4, 1016.7, 1014.0, 1011.2, 1008.1, 1004.3],
    57: [1021.6, 1018.1, 1014.2, 1010.4, 1006.6], 59: [1024.1, 1020.6, 1016.9, 1013.0, 1009.8, 1004.0],
    61: [1020.6, 1016.2, 1011.9, 1008.1, 1004.1], 63: [1018.2, 1014.4, 1010.3, 1005.8],
    65: [1019.4, 1015.3, 1012.0, 1008.6], 67: [1019.9, 1016.1, 1011.8, 1007.3],
}
gust_pres_yes = {
    7: [1015.2], 13: [1019.8], 15: [1010.8, 1011.8, 1018.0, 1014.4], 17: [1007.2, 1009.6, 1021.4, 1016.2],
    19: [1006.5, 1016.0, 1012.3, 1019.7], 20: [1005.1, 1013.1, 1024.4, 1017.6, 1009.0],
    22: [1006.1, 1018.6, 1011.2, 1014.9, 1021.9], 24: [1001.1, 1011.5, 1021.0, 1015.3, 1007.9],
    26: [1000.0, 1008.9, 1016.5, 1012.7, 1020.4, 1004.6], 28: [1013.2, 1019.0, 1005.0, 1009.5, 1016.6, 1001.3],
    30: [1010.4, 1022.6, 1002.7, 1014.1, 1018.0, 1006.5], 31: [996.1, 1015.0, 1009.1],
    33: [1007.1, 1019.4, 1011.9, 1015.6, 1003.9], 35: [1004.6, 1013.9, 1017.3, 1009.2, 1011.4, 1020.8, 1006.9],
    37: [1006.0, 1015.6, 1020.0, 1000.9, 1010.8, 1013.0, 1003.5],
    39: [1011.0, 1018.2, 1003.8, 1007.4, 1014.8, 1009.6], 41: [1008.0, 1014.6, 1021.8, 1005.3, 1011.2, 1016.9],
    43: [994.7, 1005.4, 1012.5, 1017.0, 1009.7, 1002.8], 44: [1009.8, 1002.2, 1014.0],
    46: [1033.8, 1007.5, 1015.3, 1020.7, 1011.0, 1003.4], 48: [1028.3, 1004.1, 1011.8, 1016.9, 1008.2, 1013.9],
    50: [1032.8, 1008.7, 1013.5, 999.0, 1005.7, 1017.3, 1010.9],
    52: [1028.3, 1010.6, 1003.5, 1017.8, 1007.0, 1013.4], 54: [1027.6, 1006.8, 1013.1, 1010.0, 1002.6, 1016.1],
    56: [1001.4, 1011.5, 1018.4, 1008.0, 1005.0], 57: [994.8, 1008.4, 1012.9],
    59: [1027.2, 994.5, 1014.0, 1004.9, 1009.6, 1000.3], 61: [993.7, 1009.7, 1001.6, 1005.5],
    63: [1016.7, 1005.8, 998.7, 1010.2], 65: [1011.9, 1000.6, 1004.7], 67: [1027.6, 993.2, 1007.9, 1002.4],
    69: [1013.0, 1002.5, 1006.2], 70: [1017.4, 998.1, 1009.3], 72: [990.2, 1006.7, 1010.9, 1001.9],
    74: [1024.8, 1019.5, 1018.0, 1003.2, 997.0], 76: [992.6, 1009.5, 999.5], 78: [1019.7, 1001.0, 1005.8],
    80: [1023.4, 996.2, 1007.8, 1000.4], 83: [1003.0], 85: [1010.7, 1003.1], 87: [1000.9], 89: [1000.0],
    91: [1011.2, 1004.4], 93: [1010.6, 1002.2, 999.2], 94: [994.7], 96: [1017.1, 1003.7, 995.7],
    98: [1009.2, 998.4], 102: [1008.1], 104: [1008.0], 113: [1012.4], 117: [1007.1],
}
gust_pres_yes_more = {
    20: [1011.0, 1015.3, 1007.3], 22: [1009.2, 1016.8, 1013.0, 1004.2], 24: [1013.6, 1017.7, 1009.7, 1004.0],
    26: [1014.6, 1010.6, 1006.8, 1018.3], 28: [1011.4, 1014.9, 1007.4, 1003.2],
    30: [1012.3, 1016.2, 1008.4, 1004.6, 1020.2], 33: [1009.5, 1013.7, 1017.5, 1005.8, 1001.9],
    35: [1015.6, 1007.9, 1002.5, 1018.9], 37: [1008.7, 1011.9, 1017.6, 1014.3], 39: [1005.6, 1012.6, 1016.5, 1001.4],
    41: [1009.6, 1012.9, 1003.2, 1019.4], 43: [1007.3, 1014.6, 1010.8], 46: [1009.2, 1013.3, 1005.6, 1017.6],
    48: [1006.2, 1010.0, 1015.2, 1001.8], 50: [1006.9, 1012.2, 1015.3, 1002.9], 52: [1005.2, 1008.8, 1015.6, 1011.9],
    54: [1004.6, 1008.4, 1011.6, 1014.5], 56: [1003.1, 1009.7, 1013.6, 1016.5], 59: [1007.0, 1011.8, 1002.5],
    61: [1003.6, 1007.6, 1012.0], 63: [1002.4, 1008.1], 65: [1006.9, 1009.3, 1002.7], 67: [1005.1, 1010.7],
    69: [1004.3, 1009.8], 72: [1004.4, 1008.6], 74: [1006.3, 1000.9],
}

# Rainfall x Humidity3pm: humidity of the days with zero rain, then the other points
rain0_hum_no = [0, 1, 3, 4, 6, 7, 9, 10, 12, 13, 15, 16, 18, 19, 21, 22, 24, 25, 27, 28, 30, 31, 33, 35, 36,
                38, 39, 41, 43, 44, 46, 48, 49, 51, 53, 55, 57, 59, 61, 63, 65, 68, 70, 73, 76, 80]
rain_hum_no = [
    (0.2, 17), (0.4, 28), (0.6, 36), (0.8, 45), (1.0, 52), (1.2, 60), (0.4, 66), (1.6, 71), (2.0, 48), (2.4, 57),
    (3.0, 63), (0.6, 41), (1.8, 38), (2.6, 33), (1.2, 26), (0.8, 22), (3.5, 14), (4.0, 6), (4.8, 25), (6.1, 22),
    (6.4, 25), (9.2, 35), (12.4, 35), (14.8, 30), (16.0, 31), (16.3, 25), (16.9, 35), (18.5, 41), (20.8, 40),
    (22.5, 41), (4.5, 44), (5.5, 50), (7.0, 55), (8.5, 60), (10.0, 64), (6.0, 68), (9.0, 73), (12.0, 47),
    (11.0, 58), (14.0, 52), (3.2, 78), (5.0, 82), (7.6, 75), (13.0, 66), (172, 77), (87, 50), (65.2, 57),
    (64, 41), (51, 52), (43.1, 58), (43.1, 54), (39.2, 41), (34.4, 29), (44.3, 90), (35.3, 90), (38, 75),
    (36.9, 69), (38.7, 69), (36.6, 63), (31.3, 64), (29.3, 67), (31.5, 58), (30.3, 52), (31.4, 46), (33.2, 75),
    (28.3, 74), (29.5, 71), (26.9, 72), (25, 75), (19.8, 99), (16.5, 96), (18.9, 86), (22, 80), (24, 80),
    (20, 62), (23, 68), (17, 56), (26, 60), (15, 76), (0.2, 5), (0.2, 11), (0.4, 20), (0.2, 30), (0.6, 33),
    (0.2, 45), (0.4, 50), (0.2, 55), (0.6, 58), (0.8, 62), (0.4, 72), (1.0, 14), (1.4, 31), (1.6, 40),
    (2.0, 44), (2.2, 29), (1.2, 52), (0.8, 68), (1.8, 56), (2.8, 47), (0.2, 76), (1.0, 78),
]
rain0_hum_yes = [12, 17, 22, 27, 31, 34, 37, 40, 42, 44, 46, 48, 50, 51, 53, 55, 57, 58, 60, 62, 63, 65, 67, 68,
                 70, 72, 73, 75, 77, 78, 80, 82, 83, 85, 86, 88, 90, 91, 93, 95, 96, 98, 100]
rain_hum_yes = [
    (0.4, 100), (1, 100), (2, 100), (0.6, 98), (1.4, 95), (2.2, 92), (3, 97), (0.8, 90), (1.6, 87), (2.8, 84),
    (3.6, 89), (4.4, 93), (5.2, 86), (0.4, 82), (1.2, 79), (2.4, 76), (3.2, 72), (4, 80), (4.8, 75), (5.6, 70),
    (6.4, 83), (7.2, 77), (8, 88), (8.8, 72), (9.6, 66), (0.6, 74), (1.8, 68), (2.6, 64), (3.4, 60), (4.2, 67),
    (5, 62), (5.8, 57), (6.6, 64), (7.4, 58), (8.2, 69), (9, 61), (10, 55), (1, 58), (2, 54), (3, 50), (4, 56),
    (6, 52), (7, 46), (1.4, 46), (2.2, 42), (0.8, 62), (11, 79), (12, 92), (13, 86), (14, 70), (15, 98),
    (16, 82), (17, 66), (18, 90), (19, 74), (20, 58), (21, 95), (22, 85), (23, 68), (24, 62), (25, 77),
    (11.5, 54), (12.8, 60), (14.2, 47), (9.6, 51), (6, 37), (5, 44), (4, 30), (10.5, 70), (16, 100),
    (18.6, 100), (7, 100), (12, 100), (27, 84), (28.5, 77), (68.6, 96.8), (77.7, 95.7), (76.2, 93.7),
    (127.9, 91.7), (145.7, 88.9), (99.5, 80.7), (72.8, 86.7), (71.4, 84.7), (77.7, 73.7), (76.8, 69.7),
    (57.9, 92.8), (52.7, 84.7), (41, 100), (33.7, 98.8), (42.6, 92.8), (47.1, 86.7), (48.4, 81.9), (49, 78.8),
    (50.6, 73.7), (54.2, 72.8), (43.6, 71.8), (45.4, 71.8), (54.6, 61.8), (56.6, 56.8), (55.2, 55.7),
    (49.6, 47.8), (43.5, 33.7), (39.2, 58.8), (35.5, 53.7), (43.6, 64.7), (33.5, 67.8), (35.5, 63.8),
    (26, 45.8), (28, 51.7), (26.7, 82.8), (30.2, 89.7), (30, 86.7), (33.2, 86.7), (35.9, 84.7), (37.5, 80.7),
    (41.1, 80.7), (39.6, 77.7), (192, 83), (29, 61), (31, 95), (0.2, 45), (0.2, 52), (0.4, 56), (0.2, 61),
    (0.4, 65), (0.2, 70), (0.6, 72), (0.4, 76), (0.2, 80), (0.6, 84), (0.2, 88), (0.4, 91), (0.2, 94), (0.4, 97),
    (0.6, 88), (0.8, 93), (1.0, 85), (1.2, 73), (1.4, 66), (1.6, 77), (1.8, 81), (2.0, 89), (2.2, 71), (2.6, 95),
    (3.0, 90), (3.4, 82), (3.8, 76), (4.2, 86), (4.6, 99), (5.4, 91), (6.2, 78), (7.0, 72), (8.4, 80), (9.2, 86),
    (10.4, 93), (0.2, 36), (0.4, 40), (1.2, 48), (0.8, 53), (3.6, 65), (4.8, 52), (5.6, 47), (6.8, 60), (8.0, 66),
    (9.4, 58), (11.0, 63), (12.6, 73), (13.4, 80), (14.6, 90), (15.6, 62), (17.4, 85), (18.2, 95), (19.4, 70),
    (20.6, 88), (21.6, 78), (23.4, 93), (24.6, 72), (8.0, 94), (10.0, 99), (13.5, 97),
]

GREEN = "#66c2a5"
ORANGE = "#fc8d62"
INK = "#262626"
GRID = "#cccccc"
FONT = "Liberation Sans"


def make_panel(title, xlabel, ylabel, xr, yr, xticks, yticks, no_pts, yes_pts, loc,
               width, height, borders):
    left, right, top, bottom = borders
    p = figure(width=width, height=height, x_range=Range1d(*xr), y_range=Range1d(*yr),
               output_backend="svg", toolbar_location=None,
               min_border_left=left, min_border_right=right,
               min_border_top=top, min_border_bottom=bottom)
    p.title.text = title
    p.title.align = "center"
    p.title.text_font = FONT
    p.title.text_font_size = "22.5px"
    p.title.text_font_style = "bold"
    p.title.text_color = INK
    p.title.standoff = 6

    p.outline_line_color = GRID
    p.outline_line_width = 2
    p.background_fill_color = "white"
    p.border_fill_color = "white"

    p.xaxis.ticker = FixedTicker(ticks=xticks)
    p.yaxis.ticker = FixedTicker(ticks=yticks)
    p.xaxis.axis_label = xlabel
    p.yaxis.axis_label = ylabel
    for ax in (p.xaxis[0], p.yaxis[0]):
        ax.axis_line_color = None
        ax.major_tick_line_color = None
        ax.minor_tick_line_color = None
        ax.major_tick_out = 0
        ax.major_tick_in = 0
        ax.major_label_text_font = FONT
        ax.major_label_text_font_size = "17.5px"
        ax.major_label_text_color = INK
        ax.axis_label_text_font = FONT
        ax.axis_label_text_font_size = "20px"
        ax.axis_label_text_font_style = "normal"
        ax.axis_label_text_color = INK
        ax.axis_label_standoff = 6
    p.xaxis.major_label_standoff = 18
    p.yaxis.major_label_standoff = 20

    for g in (p.xgrid[0], p.ygrid[0]):
        g.grid_line_color = GRID
        g.grid_line_width = 1.6

    r_no = p.scatter([a for a, b in no_pts], [b for a, b in no_pts], size=7.5,
                     fill_color=GREEN, fill_alpha=0.5, line_color=None)
    r_yes = p.scatter([a for a, b in yes_pts], [b for a, b in yes_pts], size=7.5,
                      fill_color=ORANGE, fill_alpha=0.5, line_color=None)

    legend = Legend(items=[LegendItem(label="No", renderers=[r_no]),
                           LegendItem(label="Yes", renderers=[r_yes])],
                    location=loc, title="RainTomorrow")
    legend.title_text_font = FONT
    legend.title_text_font_size = "25px"
    legend.title_text_font_style = "normal"
    legend.title_text_color = INK
    legend.title_standoff = 0
    legend.label_text_font = FONT
    legend.label_text_font_size = "14.5px"
    legend.label_text_color = INK
    legend.padding = 3
    legend.spacing = -2
    legend.glyph_width = 112
    legend.glyph_height = 25
    legend.label_standoff = 0
    legend.label_width = 73
    legend.margin = 8
    legend.border_line_color = GRID
    legend.border_line_width = 1
    legend.background_fill_alpha = 0.8
    p.add_layout(legend)
    return p


def flatten(table):
    return [(g, v) for g, vals in table.items() for v in vals]


gust_no = flatten(gust_pres_no) + flatten(gust_pres_no_more)
gust_yes = flatten(gust_pres_yes) + flatten(gust_pres_yes_more)
rain_no = [(0, h) for h in rain0_hum_no] + rain_hum_no
rain_yes = [(0, h) for h in rain0_hum_yes] + rain_hum_yes

p1 = make_panel("Humidity3pm × Pressure3pm", "Humidity3pm", "Pressure3pm",
                (-4.95, 104.95), (980.1, 1040.73), [0, 20, 40, 60, 80, 100],
                [990, 1000, 1010, 1020, 1030, 1040], hum_pres_no + hum_pres_no_core,
                hum_pres_yes + hum_pres_yes_core, "bottom_left", 813, 670, (104, 20, 85, 85))
p2 = make_panel("Humidity3pm × Temp3pm", "Humidity3pm", "Temp3pm",
                (-2.9, 104.9), (-5.4, 46.27), [0, 20, 40, 60, 80, 100],
                [0, 10, 20, 30, 40], hum_temp_no + hum_temp_no_core, hum_temp_yes + hum_temp_yes_core,
                "top_right", 806, 670, (92, 25, 85, 85))
p3 = make_panel("WindGustSpeed × Pressure3pm", "WindGustSpeed", "Pressure3pm",
                (1.5, 122.4), (984.3, 1042.1), [20, 40, 60, 80, 100, 120],
                [990, 1000, 1010, 1020, 1030, 1040], gust_no, gust_yes,
                "top_right", 813, 611, (104, 20, 40, 71))
p4 = make_panel("Rainfall × Humidity3pm", "Rainfall", "Humidity3pm",
                (-9.6, 201.2), (-5, 105), [0, 25, 50, 75, 100, 125, 150, 175, 200],
                [0, 20, 40, 60, 80, 100], rain_no, rain_yes,
                "bottom_right", 806, 611, (92, 25, 40, 71))

head = Div(text=('<div style="width:1619px;text-align:center;font-family:\'Liberation Sans\';'
                 'font-size:22px;line-height:24.6px;color:#262626;padding-top:11px">'
                 'Relações entre Variáveis Meteorológicas por RainTomorrow<br>'
                 '(amostra de até 5.000 pontos; sem chuva amanhã vs. com chuva amanhã)</div>'),
           width=1619, height=88, margin=(0, 0, 0, 0))

page = column(head, row(p1, p2), row(p3, p4))

open("out.html", "w", encoding="utf-8").write(file_html(page, INLINE))
